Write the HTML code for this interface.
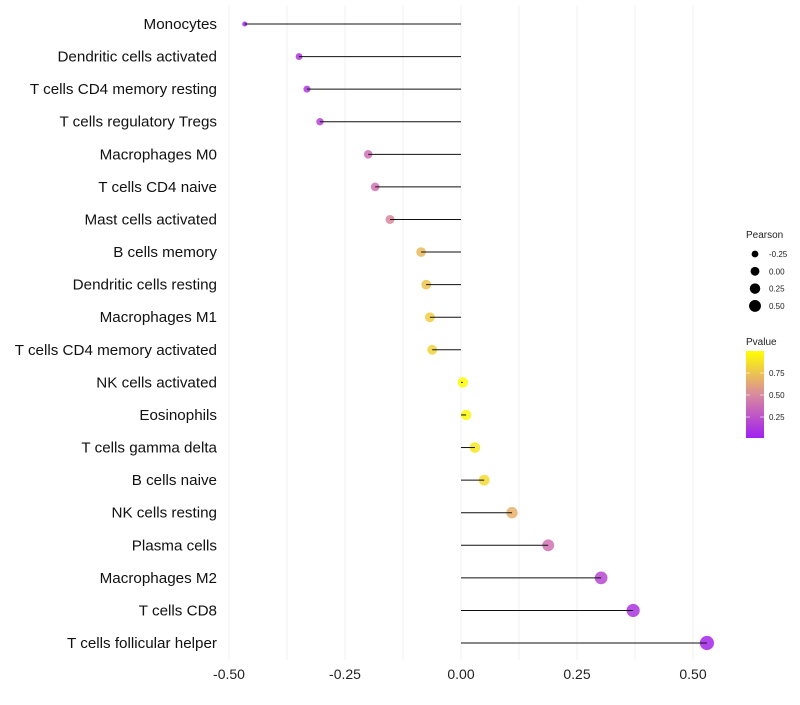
<!DOCTYPE html>
<html><head><meta charset="utf-8"><style>
body{margin:0;background:#fff;font-family:"Liberation Sans",sans-serif}
</style></head><body>
<svg id="c" width="800" height="700" xmlns="http://www.w3.org/2000/svg" font-family="Liberation Sans, sans-serif"></svg>
<script>
const categories=["Monocytes","Dendritic cells activated","T cells CD4 memory resting","T cells regulatory  Tregs","Macrophages M0","T cells CD4 naive","Mast cells activated","B cells memory","Dendritic cells resting","Macrophages M1","T cells CD4 memory activated","NK cells activated","Eosinophils","T cells gamma delta","B cells naive","NK cells resting","Plasma cells","Macrophages M2","T cells CD8","T cells follicular helper"];
const pearson=[-0.466,-0.349,-0.332,-0.304,-0.200,-0.185,-0.153,-0.086,-0.075,-0.067,-0.062,0.004,0.011,0.030,0.050,0.110,0.188,0.302,0.371,0.530];
const pvalue=[0.03,0.10,0.12,0.18,0.40,0.42,0.52,0.72,0.76,0.80,0.82,0.99,0.97,0.90,0.85,0.68,0.42,0.20,0.10,0.03];
const xTicks=[-0.5,-0.25,0,0.25,0.5];
const xTickLabels=["-0.50","-0.25","0.00","0.25","0.50"];
const sizeLegend=[-0.25,0,0.25,0.5];
const sizeLegendLabels=["-0.25","0.00","0.25","0.50"];
const pTicks=[0.25,0.5,0.75];
const pTickLabels=["0.25","0.50","0.75"];

const svg=document.getElementById('c');const NS="http://www.w3.org/2000/svg";
function mk(t,a,p){const e=document.createElementNS(NS,t);for(const k in a)e.setAttribute(k,a[k]);(p||svg).appendChild(e);return e;}
const x=v=>461+v*464;
const y=i=>24+i*32.58;
const rad=v=>Math.sqrt(Math.max(2.2,27+44*v));
function col(p){const s=[[160,32,240],[217,130,165],[255,255,0]];let t=Math.max(0,Math.min(1,p));let a,b,f;if(t<0.5){a=s[0];b=s[1];f=t/0.5}else{a=s[1];b=s[2];f=(t-0.5)/0.5}return `rgb(${a.map((c,k)=>Math.round(c+(b[k]-c)*f)).join(',')})`;}
for(let v=-0.5;v<=0.5001;v+=0.125){const g=mk('line',{x1:x(v),x2:x(v),y1:5,y2:660,stroke:'#f2f2f2','stroke-width':1});

}
xTicks.forEach((v,i)=>{const t=mk('text',{x:x(v),y:679,'text-anchor':'middle','font-size':14,fill:'#222'});t.textContent=xTickLabels[i];

});
categories.forEach((c,i)=>{
const t=mk('text',{x:217,y:y(i)+5,'text-anchor':'end','font-size':15.2,fill:'#111'});t.textContent=c;


const d=mk('circle',{cx:x(pearson[i]),cy:y(i),r:rad(pearson[i]),fill:col(pvalue[i]),'fill-opacity':0.85});


const l=mk('line',{x1:x(0),x2:x(pearson[i]),y1:y(i),y2:y(i),stroke:'#111','stroke-width':1});


});
let t=mk('text',{x:746,y:238,'font-size':10,fill:'#222'});t.textContent='Pearson';


sizeLegend.forEach((v,i)=>{const yy=254+i*17.3;const c=mk('circle',{cx:755,cy:yy,r:rad(v)*0.85,fill:'#000'});


const tt=mk('text',{x:769,y:yy+3,'font-size':8,fill:'#222'});tt.textContent=sizeLegendLabels[i];

});
t=mk('text',{x:746,y:345,'font-size':10,fill:'#222'});t.textContent='Pvalue';


const defs=mk('defs',{});const lg=mk('linearGradient',{id:'g',x1:0,y1:1,x2:0,y2:0},defs);
[[0,'#A020F0'],[0.5,'#D98A9E'],[1,'#FFFF00']].forEach(s=>mk('stop',{offset:s[0],'stop-color':s[1]},lg));
const bar=mk('rect',{x:746,y:351,width:18,height:87,fill:'url(#g)'});


const py=p=>439-p*88;
pTicks.forEach((p,i)=>{mk('line',{x1:746,x2:750,y1:py(p),y2:py(p),stroke:'#fff','stroke-width':0.6});mk('line',{x1:760,x2:764,y1:py(p),y2:py(p),stroke:'#fff','stroke-width':0.6});
const tt=mk('text',{x:769,y:py(p)+3,'font-size':8,fill:'#222'});tt.textContent=pTickLabels[i];

});
</script>
</body></html>
